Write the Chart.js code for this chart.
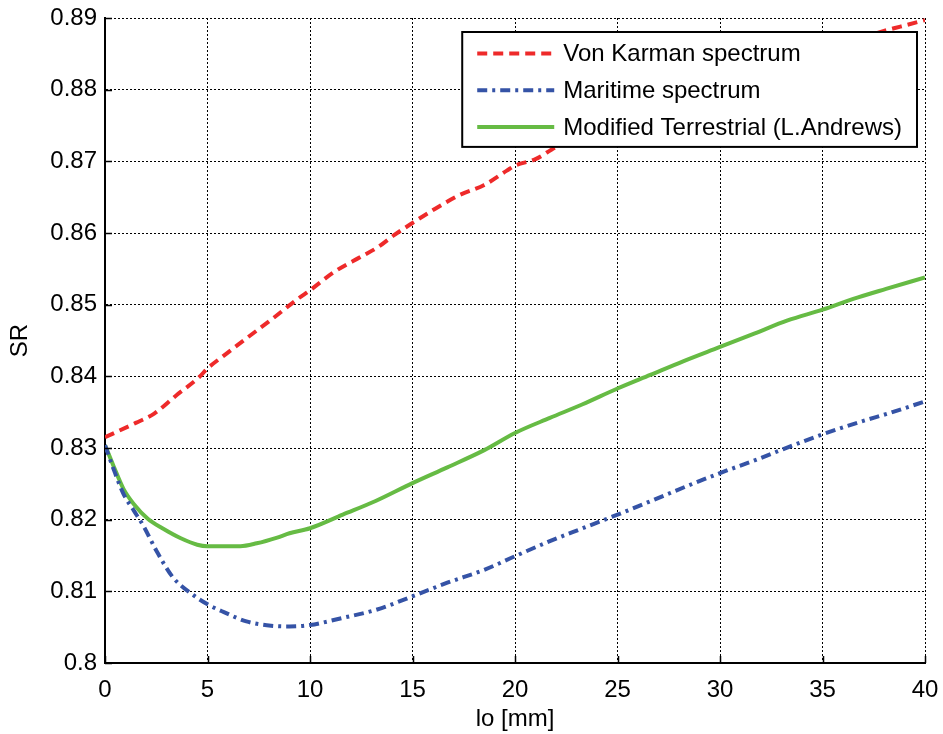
<!DOCTYPE html>
<html>
<head>
<meta charset="utf-8">
<title>SR vs lo</title>
<script src="https://cdn.jsdelivr.net/npm/chart.js@4.4.1/dist/chart.umd.min.js"></script>
<style>
  html, body { margin: 0; padding: 0; background: #ffffff; }
  #wrap { width: 943px; height: 734px; position: relative; }
</style>
</head>
<body>
<div id="wrap"><canvas id="chart"></canvas></div>
<script>
// Axis ticks
const xTicks = [0, 5, 10, 15, 20, 25, 30, 35, 40];
const yTicks = [0.8, 0.81, 0.82, 0.83, 0.84, 0.85, 0.86, 0.87, 0.88, 0.89];

// Series labels
const seriesNames = ['Von Karman spectrum', 'Maritime spectrum', 'Modified Terrestrial (L.Andrews)'];

// Von Karman spectrum
const loKarman = [0, 1.5, 2.4, 3.5, 4.6, 5, 5.8, 6.9, 8.2, 9.4, 10, 11.2, 12.5, 13.3, 14.1, 15, 16, 17.3, 18.5, 19.6, 20, 21, 22, 25, 28, 31, 34, 36, 38, 38.8, 40];
const srKarman = [0.8315, 0.8335, 0.8348, 0.8374, 0.8399, 0.8411, 0.8429, 0.8453, 0.8481, 0.8508, 0.8520, 0.8546, 0.8567, 0.8580, 0.8597, 0.8614, 0.8632, 0.8653, 0.8667, 0.8687, 0.8694, 0.8703, 0.8720, 0.8756, 0.8789, 0.8819, 0.8847, 0.8864, 0.8882, 0.8888, 0.8897];

// Maritime spectrum
const loMaritime = [0, 0.4, 0.9, 1.4, 1.9, 2.5, 3.3, 4.2, 5, 5.8, 6.9, 8.1, 9, 10, 11.6, 13.2, 15, 16.7, 18.5, 20, 21.7, 23.3, 25, 26.8, 28.4, 30, 31.8, 33.4, 35, 36.9, 38.3, 40];
const srMaritime = [0.8304, 0.8272, 0.8236, 0.8213, 0.8190, 0.8157, 0.8120, 0.8097, 0.8082, 0.8071, 0.8058, 0.8052, 0.8051, 0.8053, 0.8063, 0.8074, 0.8093, 0.8112, 0.8130, 0.8149, 0.8170, 0.8188, 0.8207, 0.8228, 0.8247, 0.8265, 0.8284, 0.8302, 0.8319, 0.8337, 0.8349, 0.8365];

// Modified Terrestrial (L.Andrews)
const loTerrestrial = [0, 0.4, 0.9, 1.4, 2.1, 2.8, 3.7, 4.5, 5, 6.6, 7.4, 8.4, 9, 10, 11.6, 13.2, 15, 16.7, 18.5, 20, 21.7, 23.3, 25, 26.6, 28.2, 30, 31.7, 33.3, 35, 36.5, 38.1, 40];
const srTerrestrial = [0.8304, 0.8276, 0.8243, 0.8222, 0.8201, 0.8188, 0.8174, 0.8165, 0.8163, 0.8163, 0.8167, 0.8175, 0.8181, 0.8188, 0.8207, 0.8226, 0.8251, 0.8273, 0.8297, 0.8321, 0.8342, 0.8361, 0.8383, 0.8402, 0.8421, 0.8441, 0.8460, 0.8478, 0.8493, 0.8508, 0.8522, 0.8538];

const FONT = '"Liberation Sans", Arial, Helvetica, sans-serif';

const toPoints = (xs, ys) => xs.map((x, i) => ({ x: x, y: ys[i] }));

// Boxed legend inside the plot, upper right
const boxLegend = {
  id: 'boxLegend',
  afterDatasetsDraw(chart) {
    const { ctx, chartArea } = chart;
    const ds = chart.data.datasets;
    ctx.save();
    ctx.font = '24px ' + FONT;
    const textW = Math.max(...ds.map(d => ctx.measureText(d.label).width));
    const padL = 15, sampleLen = 77, gap = 9, padR = 15, rowH = 36.7, padT = 21.5, padB = 20;
    const w = padL + sampleLen + gap + textW + padR;
    const h = padT + padB + rowH * (ds.length - 1);
    const right = chartArea.right - 8;
    const top = chartArea.top + 14;
    const left = right - w;
    ctx.fillStyle = '#ffffff';
    ctx.fillRect(left, top, w, h);
    ctx.lineWidth = 2;
    ctx.strokeStyle = '#000000';
    ctx.setLineDash([]);
    ctx.strokeRect(left, top, w, h);
    ds.forEach((d, i) => {
      const cy = top + padT + i * rowH;
      ctx.beginPath();
      ctx.lineWidth = d.borderWidth;
      ctx.strokeStyle = d.borderColor;
      ctx.setLineDash(d.borderDash || []);
      ctx.moveTo(left + padL, cy);
      ctx.lineTo(left + padL + sampleLen, cy);
      ctx.stroke();
      ctx.setLineDash([]);
      ctx.fillStyle = '#000000';
      ctx.textBaseline = 'middle';
      ctx.textAlign = 'left';
      ctx.fillText(d.label, left + padL + sampleLen + gap, cy + 1);
    });
    ctx.restore();
  }
};

// Short inward tick marks on the left and bottom axes
const innerTicks = {
  id: 'innerTicks',
  afterDraw(chart) {
    const { ctx, chartArea, scales } = chart;
    const len = 7;
    ctx.save();
    ctx.strokeStyle = '#000000';
    ctx.lineWidth = 1.5;
    ctx.setLineDash([]);
    ctx.beginPath();
    yTicks.forEach(v => {
      const y = Math.round(scales.y.getPixelForValue(v)) + 0.5;
      ctx.moveTo(chartArea.left, y);
      ctx.lineTo(chartArea.left + len, y);
    });
    xTicks.forEach(v => {
      const x = Math.round(scales.x.getPixelForValue(v)) + 0.5;
      ctx.moveTo(x, chartArea.bottom);
      ctx.lineTo(x, chartArea.bottom - len);
    });
    ctx.stroke();
    ctx.restore();
  }
};

new Chart(document.getElementById('chart'), {
  type: 'line',
  data: {
    datasets: [
      {
        label: seriesNames[0],
        data: toPoints(loKarman, srKarman),
        borderColor: '#ee2a2a',
        borderWidth: 4,
        borderDash: [10, 6],
        pointRadius: 0,
        fill: false,
        cubicInterpolationMode: 'monotone'
      },
      {
        label: seriesNames[1],
        data: toPoints(loMaritime, srMaritime),
        borderColor: '#3553a6',
        borderWidth: 4,
        borderDash: [10, 5, 3, 5],
        pointRadius: 0,
        fill: false,
        cubicInterpolationMode: 'monotone'
      },
      {
        label: seriesNames[2],
        data: toPoints(loTerrestrial, srTerrestrial),
        borderColor: '#66bb44',
        borderWidth: 4,
        pointRadius: 0,
        fill: false,
        cubicInterpolationMode: 'monotone'
      }
    ]
  },
  options: {
    responsive: true,
    maintainAspectRatio: false,
    animation: false,
    layout: { padding: { top: 18, right: 18, left: 0, bottom: 0 } },
    plugins: {
      legend: { display: false },
      tooltip: { enabled: false }
    },
    scales: {
      x: {
        type: 'linear',
        min: 0,
        max: 40,
        afterBuildTicks: s => { s.ticks = xTicks.map(v => ({ value: v })); },
        afterFit: s => { s.height = 71; s.paddingLeft = 0; s.paddingRight = 0; },
        ticks: {
          font: { family: FONT, size: 24 },
          color: '#000000',
          padding: 13,
          maxRotation: 0
        },
        grid: { color: '#000000', lineWidth: 1, drawTicks: false },
        border: { display: true, color: '#000000', width: 2, dash: [2, 2] },
        title: {
          display: true,
          text: 'lo [mm]',
          font: { family: FONT, size: 24 },
          color: '#000000',
          padding: { top: 0, bottom: 0 }
        }
      },
      y: {
        type: 'linear',
        min: 0.8,
        max: 0.89,
        afterBuildTicks: s => { s.ticks = yTicks.map(v => ({ value: v })); },
        afterFit: s => { s.width = 105; s.paddingTop = 0; s.paddingBottom = 0; },
        ticks: {
          font: { family: FONT, size: 24 },
          color: '#000000',
          padding: 8,
          callback: v => String(Number(v.toFixed(2)))
        },
        grid: { color: '#000000', lineWidth: 1, drawTicks: false },
        border: { display: true, color: '#000000', width: 2, dash: [2, 2] },
        title: {
          display: true,
          text: 'SR',
          font: { family: FONT, size: 24 },
          color: '#000000',
          padding: { top: 6, bottom: 0 }
        }
      }
    }
  },
  plugins: [boxLegend, innerTicks]
});
</script>
</body>
</html>
